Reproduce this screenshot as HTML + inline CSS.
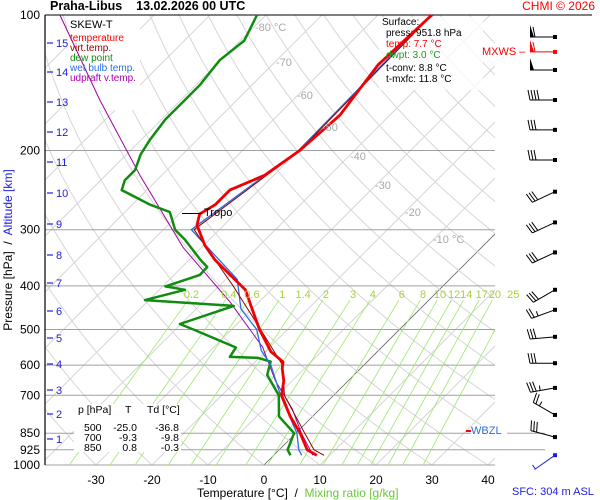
<!DOCTYPE html>
<html><head><meta charset="utf-8">
<style>
body{margin:0;background:#fff;}
svg{display:block;font-family:"Liberation Sans",sans-serif;}
</style></head>
<body>
<svg id="chart" width="600" height="500" viewBox="0 0 600 500">
<defs><clipPath id="plotclip"><rect x="45" y="15" width="450" height="450"/></clipPath></defs>
<g id="grid" clip-path="url(#plotclip)"></g>
<g id="hlines"></g>
<g id="mix" clip-path="url(#plotclip)"></g>
<g id="boxes">
  <rect x="67" y="16" width="73" height="94" fill="#fff"/>
  <rect x="379" y="17" width="104" height="73" fill="#fff" fill-opacity="0.75"/>
  <rect x="74" y="404" width="107" height="48" fill="#fff"/>
  <rect x="471" y="425" width="36" height="14" fill="#fff"/>
</g>
<g id="series"></g>
<g id="labels"></g>
<g id="barbs"></g>
</svg>
<script>
// ---- data ----
const tempP = [100,129,167,200,227,245,264,277,293,325,350,378,408,450,500,560,590,610,650,700,780,850,925,951.8];
const tempT = [-50.4,-51.1,-48.9,-49.8,-51.6,-55.2,-55.2,-56.3,-54.8,-49.8,-45.4,-40,-34.6,-30,-25,-19,-15,-14,-11.5,-9.3,-4,0.8,5,7.7];
const virtP = [100,200,300,400,500,600,700,850,925,951.8];
const virtT = [-50.4,-49.8,-54.5,-37.5,-24.8,-14.5,-8.8,1.6,6.2,9];
const dewP = [100,114,126,143,155,171,190,204,221,233,245,264,274,300,316,350,363,378,401,408,430,443,486,500,548,575,578,589,631,700,780,850,925,951.8];
const dewT = [-81.6,-79.3,-80.2,-79.3,-79.3,-79.3,-78.4,-77.5,-75.7,-75.7,-74.5,-66.8,-62,-57.9,-54.3,-48,-45.5,-45.4,-49.5,-45.4,-50.7,-33.8,-40.2,-36.8,-26,-25.4,-20.2,-17.3,-15.5,-9.8,-6,-0.3,1.5,3.0];
const wbP = [100,200,300,387,450,500,557,600,700,850,925,951.8];
const wbT = [-50.6,-50,-55,-37.9,-32,-25.5,-20.9,-16.6,-9.5,0.2,3.5,5.0];
const updP = [100,154.5,227,329,434,547,650,750,850,951.8];
const updT = [-116.8,-94.5,-73.9,-53.2,-35.2,-21.3,-13,-5,1,7];
const pressTicks = [100,200,300,400,500,600,700,850,925,1000];
const tempTicks = [-30,-20,-10,0,10,20,30,40];
const kmTicks = [1,2,3,4,5,6,7,8,9,10,11,12,13,14,15];
const kmY = [439,414,390,364,338,311,283,255,224,193,162,132,102,72,43];
const mixRatios = [0.2,0.4,0.6,1,1.4,2,3,4,6,8,10,12,14,17,20,25];
const windP = [111.9,120.8,132.5,154.5,180,210,247,289,337,408,452,519,594,674,774,867,951];
const windDir = [270,270,270,270,270,270,245,245,245,240,250,265,270,260,300,285,235];
const windSpd = [60,60,50,40,30,30,30,30,30,30,25,30,30,35,25,30,5];

// ---- axes ----
const NS="http://www.w3.org/2000/svg";
function yP(p){return 15+450*Math.log10(p/100);}
function xT(t,p){return 264+t*5.6+(465-yP(p));}
function el(tag,attrs,parent){const e=document.createElementNS(NS,tag);for(const k in attrs)e.setAttribute(k,attrs[k]);parent.appendChild(e);return e;}
function txt(x,y,s,attrs,parent){const t=el('text',Object.assign({x:x,y:y},attrs),parent);t.textContent=s;return t;}
const grid=document.getElementById('grid'),hl=document.getElementById('hlines'),mix=document.getElementById('mix'),ser=document.getElementById('series'),lab=document.getElementById('labels'),brb=document.getElementById('barbs');

for(let t=-150;t<=50;t+=10){
  const l=el('line',{x1:xT(t,1050),y1:yP(1050),x2:xT(t,100),y2:yP(100),stroke:t===0?'#666':'#d6d6d6','stroke-width':t===0?0.8:1},grid);
  
  
}
for(let th=-40;th<=220;th+=10){
  let d='';
  for(let p=1050;p>=100;p-=10){const T=(th+273.15)*Math.pow(p/1000,0.286)-273.15;d+=(d?'L':'M')+xT(T,p).toFixed(1)+','+yP(p).toFixed(1);}
  const a=el('path',{d:d,fill:'none',stroke:'#d6d6d6','stroke-width':1},grid);
  
  
}
pressTicks.forEach(p=>{
  const ext=(p===850||p===925)?545:495;
  const l=el('line',{x1:45,y1:yP(p),x2:ext,y2:yP(p),stroke:'#a0a0a0','stroke-width':1},hl);
  
  
  const t=txt(40,yP(p)+4,String(p),{'font-size':12,'text-anchor':'end',fill:'#000'},lab);
  
  
});
el('line',{x1:45,y1:15,x2:45,y2:465,stroke:'#000','stroke-width':1.2},hl);
el('line',{x1:45,y1:15,x2:592,y2:15,stroke:'#000','stroke-width':1},hl);
tempTicks.forEach(t=>{
  const l=txt(xT(t,1000),484,String(t),{'font-size':12,'text-anchor':'middle',fill:'#000'},lab);
  
  
});
kmTicks.forEach((k,i)=>{
  el('line',{x1:47,y1:kmY[i],x2:53,y2:kmY[i],stroke:'#2020e0','stroke-width':1.2},lab);
  const t=txt(56,kmY[i]+4,String(k),{'font-size':11,fill:'#2020e0'},lab);
  
  
});
function tdOf(w,p){const e=w*p/(622+w);const g=Math.log(e/6.112);return 243.5*g/(17.67-g);}
mixRatios.forEach(w=>{
  const l=el('line',{x1:xT(tdOf(w,1050),1050),y1:yP(1050),x2:xT(tdOf(w,430),430),y2:yP(430),stroke:'#9be86a','stroke-width':0.8},mix);
  
  
  const t=txt(xT(tdOf(w,420),420),298,String(w),{'font-size':11,'text-anchor':'middle',fill:'#a6d13c'},lab);
  
  
});
[['-80 °C',255,31],['-70',276,66],['-60',297,99],['-50',322,131],['-40',350,160],['-30',375,189],['-20',405,216],['-10 °C',433,243]].forEach(a=>{
  const t=txt(a[1],a[2],a[0],{'font-size':11,fill:'#a8a8a8'},lab);
  
  
});
function series(P,T,color,w,name){
  let d='';P.forEach((p,i)=>{d+=(i?'L':'M')+xT(T[i],p).toFixed(1)+','+yP(p).toFixed(1);});
  const s=el('path',{d:d,fill:'none',stroke:color,'stroke-width':w,'stroke-linejoin':'round'},ser);
  
  
}
series(updP,updT,'#a000a0',1,'updraft-line');
series(dewP,dewT,'#108c10',2.5,'dew-point-line');
series(wbP,wbT,'#2a6fe0',1.3,'wet-bulb-line');
series(virtP,virtT,'#8b0000',1,'virtual-temp-line');
series(tempP,tempT,'#f00000',2.8,'temperature-line');
windP.forEach((p,i)=>{
  const y=yP(p),x=555,col=i===1?'#f00':(i===windP.length-1?'#2020e0':'#000');
  const r=windDir[i]*Math.PI/180,ux=Math.sin(r),uy=-Math.cos(r),L=25;
  const tx=x+ux*L,ty=y+uy*L;
  const g=el('g',{},brb);
  
  
  el('line',{x1:x,y1:y,x2:tx,y2:ty,stroke:col,'stroke-width':1},g);
  el('rect',{x:x-2,y:y-2,width:4,height:4,fill:col},g);
  let s=windSpd[i],pos=0;const px=-uy,py=ux;
  while(s>=50){const bx=tx-ux*pos,by=ty-uy*pos;el('polygon',{points:`${bx},${by} ${bx+px*12},${by+py*12} ${bx-ux*4},${by-uy*4}`,fill:col},g);pos+=5;s-=50;}
  while(s>=10){const bx=tx-ux*pos,by=ty-uy*pos;el('line',{x1:bx,y1:by,x2:bx+px*10+ux*2,y2:by+py*10+uy*2,stroke:col,'stroke-width':1},g);pos+=3;s-=10;}
  if(s>=5){const bx=tx-ux*(pos+1),by=ty-uy*(pos+1);el('line',{x1:bx,y1:by,x2:bx+px*5,y2:by+py*5,stroke:col,'stroke-width':1},g);}
});
</script>
<div style="position:absolute;left:0;top:0;width:600px;height:500px;pointer-events:none;font-family:'Liberation Sans',sans-serif;">
  <div style="position:absolute;left:50px;top:-1px;font-size:12.5px;font-weight:bold;white-space:pre;">Praha-Libus    13.02.2026 00 UTC</div>
  <div style="position:absolute;right:5px;top:-1px;font-size:12px;color:#f00;">CHMI © 2026</div>
  <div style="position:absolute;left:67px;top:16px;width:73px;height:94px;font-size:10px;line-height:10px;">
    <div style="margin:4px 0 4px 3px;font-size:11px;">SKEW-T</div>
    <div style="color:#f00;margin-left:3px;">temperature</div>
    <div style="color:#8b0000;margin-left:3px;">virt.temp.</div>
    <div style="color:#108c10;margin-left:3px;">dew point</div>
    <div style="color:#2a6fe0;margin-left:3px;">wet bulb temp.</div>
    <div style="color:#b000b0;margin-left:3px;">udpraft v.temp.</div>
  </div>
  <div style="position:absolute;left:379px;top:17px;width:104px;height:73px;font-size:10px;line-height:11px;">
    <div style="margin-left:3px;">Surface:</div>
    <div style="margin-left:7px;">press: 951.8 hPa</div>
    <div style="margin-left:7px;color:#f00;">temp: 7.7 °C</div>
    <div style="margin-left:7px;color:#1a9a1a;">dwpt: 3.0 °C</div>
    <div style="margin-left:7px;margin-top:2px;">t-conv: 8.8 °C</div>
    <div style="margin-left:7px;">t-mxfc: 11.8 °C</div>
  </div>
  <div style="position:absolute;left:482px;top:46px;font-size:11px;color:#f00;">MXWS –</div>
  <div style="position:absolute;left:182px;top:213px;width:20px;height:1px;background:#000;"></div>
  <div style="position:absolute;left:204px;top:207px;font-size:11px;">Tropo</div>
  <div style="position:absolute;left:466px;top:430px;width:5px;height:2px;background:#f00;"></div>
  <div style="position:absolute;left:471px;top:425px;font-size:11px;color:#2a6fe0;">WBZL</div>
  <div style="position:absolute;left:74px;top:404px;width:107px;height:48px;font-size:10.5px;line-height:10.5px;">
    <div style="position:absolute;left:4px;top:1px;">p [hPa]</div><div style="position:absolute;left:51px;top:1px;">T</div><div style="position:absolute;left:73px;top:1px;">Td [°C]</div>
    <div style="position:absolute;left:10px;top:19px;">500</div><div style="position:absolute;right:44px;top:19px;">-25.0</div><div style="position:absolute;right:2px;top:19px;">-36.8</div>
    <div style="position:absolute;left:10px;top:29px;">700</div><div style="position:absolute;right:44px;top:29px;">-9.3</div><div style="position:absolute;right:2px;top:29px;">-9.8</div>
    <div style="position:absolute;left:10px;top:39px;">850</div><div style="position:absolute;right:44px;top:39px;">0.8</div><div style="position:absolute;right:2px;top:39px;">-0.3</div>
  </div>
  <div style="position:absolute;left:197px;top:486px;font-size:12px;white-space:pre;">Temperature [°C]  /  <span style="color:#6cc83a;">Mixing ratio [g/kg]</span></div>
  <div style="position:absolute;left:512px;top:486px;font-size:11px;color:#2020e0;">SFC: 304 m ASL</div>
  <div style="position:absolute;left:8px;top:250px;transform:translate(-50%,-50%) rotate(-90deg);font-size:12px;white-space:pre;">Pressure [hPa]  /  <span style="color:#2020e0;">Altitude [km]</span></div>
</div>
</body></html>
